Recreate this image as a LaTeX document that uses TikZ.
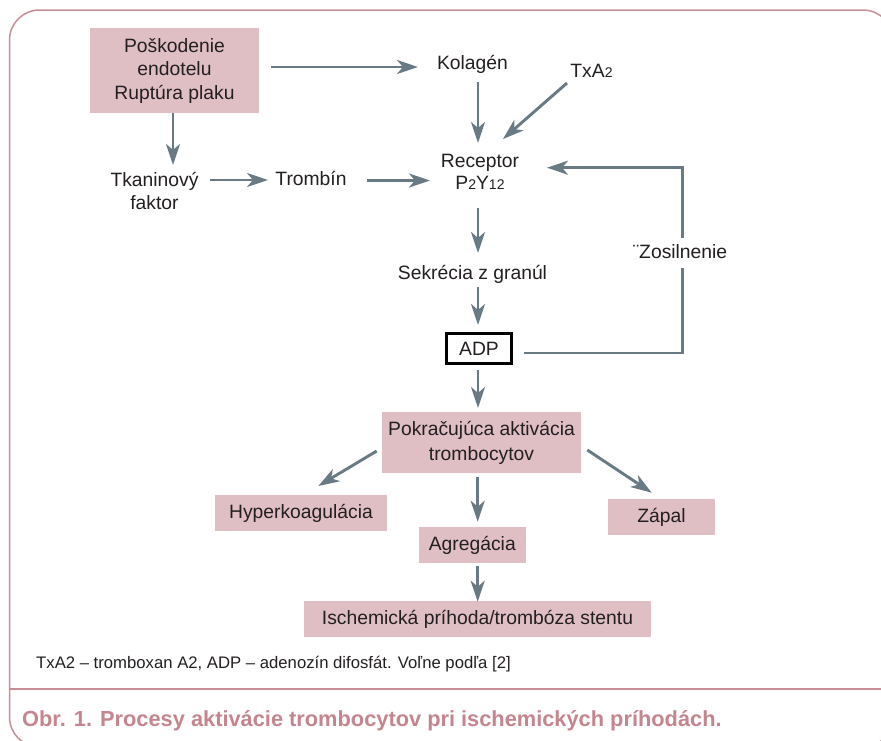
\documentclass[tikz,border=0pt]{standalone}
\usepackage{fontspec}
\setmainfont{Liberation Sans}
\usetikzlibrary{arrows.meta,calc}
\definecolor{boxpink}{HTML}{DFBFC4}
\definecolor{arrgray}{HTML}{687A84}
\definecolor{framepink}{HTML}{C68E97}
\definecolor{cappink}{HTML}{C4858F}
\definecolor{txt}{HTML}{231F20}
\newcommand\sdig[1]{{\fontsize{14}{14}\selectfont #1}}
\tikzset{
  lbl/.style={font=\fontsize{19.3}{23.5}\selectfont, text=txt, inner sep=0pt, align=center},
  pinkbox/.style={fill=boxpink, inner sep=0pt, align=center, text=txt},
  onebox/.style={pinkbox, font=\fontsize{19.3}{23.5}\selectfont, text height=14pt, text depth=4pt},
  arr/.style={draw=arrgray, line width=2.9pt, -{Stealth[length=21pt,width=14pt,inset=6pt]}},
  frameline/.style={draw=framepink, line width=1.5pt},
}
\begin{document}
\begin{tikzpicture}[x=1pt,y=-1pt]
\useasboundingbox (0,0) rectangle (881,740);
\begin{scope}
  \clip (0,0) rectangle (881,740);
  \draw[frameline, rounded corners=30pt] (9.5,10) rectangle (893,747);
  \draw[frameline, line width=1.8pt] (9.5,689) -- (893,689);
\end{scope}

% nodes
\node[pinkbox, font=\fontsize{19.3}{23.5}\selectfont, minimum width=169pt, minimum height=85pt] (top) at (174.5,70.5) {Poškodenie\\endotelu\\Ruptúra plaku};
\node[lbl, anchor=base] (kol) at (472.5,69.3) {Kolagén};
\node[lbl, anchor=base] (txa) at (591.5,77.7) {TxA\sdig{2}};
\node[lbl, font=\fontsize{19.3}{22.7}\selectfont] (rec) at (480,171.9) {Receptor\\P\sdig{2}Y\sdig{12}};
\node[lbl, font=\fontsize{19.3}{23.3}\selectfont] (tka) at (154.5,190.9) {Tkaninový\\faktor};
\node[lbl, anchor=base] (tro) at (311,185) {Trombín};
\node[lbl, anchor=base] (sek) at (472.5,279) {Sekrécia z granúl};
\node[draw=black, line width=2.7pt, inner sep=0pt, minimum width=65.3pt, minimum height=30.3pt,
      font=\fontsize{19.3}{23.5}\selectfont, text=txt, text height=13.6pt, text depth=0pt] (adp) at (479,348.5) {ADP};
\node[pinkbox, font=\fontsize{19.3}{24.3}\selectfont, minimum width=199pt, minimum height=61pt] (pok) at (481.5,442.8) {Pokračujúca aktivácia\\trombocytov};
\node[onebox, minimum width=172pt, minimum height=36pt] (hyp) at (301,513) {Hyperkoagulácia};
\node[onebox, minimum width=107pt, minimum height=36pt] (agr) at (472.3,545) {Agregácia};
\node[onebox, minimum width=107pt, minimum height=36pt] (zap) at (661.5,517) {Zápal};
\node[onebox, minimum width=347pt, minimum height=36pt] (isc) at (477.5,619) {Ischemická príhoda/trombóza stentu};

% connectors
\draw[arr] ($(top)+(96.5,-3.5)$) -- ($(kol.base)+(-54.5,-2.3)$);
\draw[arr] ($(top)+(-1.5,42.5)$) -- ($(tka)+(18.5,-25.9)$);
\draw[arr] ($(tka)+(55.5,-10.9)$) -- ($(tro.base)+(-43,-5)$);
\draw[arr] ($(tro.base)+(56,-4.5)$) -- ($(rec)+(-50,8.6)$);
\draw[arr] ($(kol.base)+(5.5,12.7)$) -- ($(rec)+(-2,-28.9)$);
\draw[arr] ($(txa.base)+(-24.5,5.3)$) -- ($(rec)+(23,-32.9)$);
\draw[arr] ($(rec)+(-2,36.1)$) -- ($(sek.base)+(5.5,-26)$);
\draw[arr] ($(sek.base)+(5.5,8)$) -- ($(adp)+(-1,-23.5)$);
\draw[arr] ($(adp)+(-1,21.5)$) -- ($(pok)+(-3.5,-34.8)$);
\draw[arr] ($(pok)+(-104.8,8.2)$) -- ($(hyp)+(17.3,-27)$);
\draw[arr] ($(pok)+(-3.8,34.2)$) -- ($(agr)+(5.4,-23.3)$);
\draw[arr] ($(pok)+(105.8,7.2)$) -- ($(zap)+(-9.8,-24.3)$);
\draw[arr] ($(agr)+(5.4,20.7)$) -- ($(isc)+(0.2,-17.3)$);
\draw[arr] ($(adp)+(45,4.5)$) -- ++(158.5,0) |- ($(rec)+(67,-4.2)$);

\node[lbl, anchor=base, fill=white, inner xsep=2pt, inner ysep=6pt, text height=14pt, text depth=4pt] (zos) at (680,258.3) {¨Zosilnenie};

% footnote and caption
\node[anchor=base west, inner sep=0pt, text=txt, font=\fontsize{16.7}{16.7}\selectfont] (note) at (36,668.3) {TxA2 – tromboxan A2, ADP – adenozín difosfát. Voľne podľa [2]};
\node[anchor=base west, inner sep=0pt, text=cappink, font=\bfseries\fontsize{21.8}{21.8}\selectfont] (cap) at (22,726.5) {Obr. 1. Procesy aktivácie trombocytov pri ischemických príhodách.};
\end{tikzpicture}
\end{document}
